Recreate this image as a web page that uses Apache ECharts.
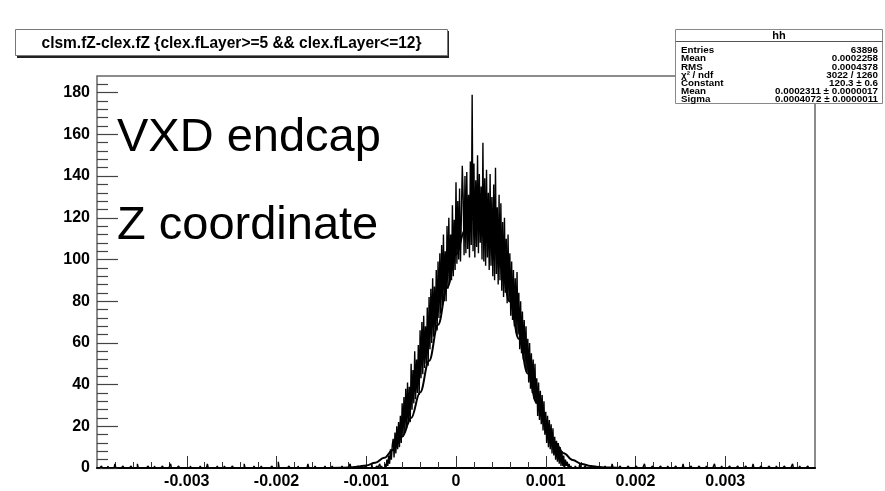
<!DOCTYPE html>
<html><head><meta charset="utf-8">
<script src="https://cdn.jsdelivr.net/npm/echarts@6/dist/echarts.min.js"></script>
<style>html,body{margin:0;padding:0;background:#fff}#c{width:885px;height:491px}</style>
</head><body><div id="c"></div>
<script>
// ---- data ----
const histStart = -0.004;
const histEnd = 0.004;
const binWidth = 0.00001;
const peakStart = -0.0008;
const peakCounts = [
  0, 2, 0, 4, 1, 6, 2, 9, 4, 11,
  14, 5, 17, 7, 20, 9, 22, 10, 25, 12,
  31, 15, 34, 17, 38, 19, 41, 21, 39, 22,
  50, 28, 47, 31, 56, 33, 52, 36, 59, 35,
  66, 43, 70, 45, 73, 48, 68, 50, 77, 49,
  82, 57, 86, 60, 91, 63, 87, 65, 95, 66,
  99, 72, 103, 74, 107, 78, 112, 80, 104, 80,
  116, 86, 120, 89, 112, 90, 126, 92, 119, 95,
  137, 98, 128, 100, 134, 99, 121, 145, 130, 102,
  140, 103, 142, 105, 131, 101, 147, 107, 179, 104,
  146, 101, 138, 106, 150, 103, 141, 108, 135, 100,
  156, 99, 139, 97, 143, 101, 132, 95, 141, 97,
  130, 92, 136, 90, 144, 93, 125, 88, 131, 90,
  127, 85, 118, 82, 120, 84, 110, 79, 112, 80,
  103, 73, 99, 71, 95, 68, 91, 65, 94, 64,
  84, 57, 80, 55, 75, 52, 71, 49, 68, 46,
  62, 41, 60, 38, 55, 36, 52, 33, 50, 31,
  43, 25, 41, 23, 37, 21, 35, 18, 32, 16,
  27, 12, 25, 10, 23, 9, 21, 7, 19, 6,
  15, 4, 13, 3, 12, 2, 10, 1, 8, 1,
  6, 0, 4, 1, 3, 0, 2, 0, 1, 0, 0
];
const tailBins = [
  [-0.00395,1],[-0.00388,1],[-0.0038,2],[-0.00371,1],[-0.00362,1],[-0.00355,2],[-0.00343,1],
  [-0.00336,1],[-0.00327,1],[-0.00318,2],[-0.00309,1],[-0.00296,1],[-0.00285,1],[-0.00277,2],
  [-0.00266,1],[-0.00258,1],[-0.00249,1],[-0.00236,2],[-0.00225,1],[-0.00217,1],[-0.00205,1],
  [-0.00198,3],[-0.00186,1],[-0.00176,1],[-0.00165,2],[-0.00157,1],[-0.00146,1],[-0.00138,1],
  [-0.00127,1],[-0.00118,2],[-0.00109,1],[-0.00101,1],[-0.00094,2],[-0.00088,1],[-0.00085,2],
  [-0.00083,1],
  [0.00133,1],[0.00138,2],[0.00144,1],[0.00151,1],[0.00158,1],[0.00166,1],[0.00174,2],
  [0.00183,1],[0.00192,1],[0.00201,1],[0.0021,2],[0.00219,1],[0.00228,1],[0.00236,1],
  [0.00245,1],[0.00253,2],[0.00262,1],[0.00271,1],[0.00279,1],[0.00288,2],[0.00296,1],
  [0.00305,1],[0.00314,1],[0.00323,1],[0.00331,2],[0.0034,1],[0.00349,1],[0.00357,1],
  [0.00366,1],[0.00375,2],[0.00383,1],[0.00392,1]
];
const fitX = [-0.0014,-0.0013,-0.0012,-0.0011,-0.0010,-0.0009,-0.0008,-0.0007,-0.0006,-0.0005,
  -0.0004,-0.0003,-0.0002,-0.0001,0,0.0001,0.0002,0.0003,0.0004,0.0005,0.0006,0.0007,0.0008,
  0.0009,0.0010,0.0011,0.0012,0.0013,0.0014,0.0015,0.0016,0.0017,0.0018];
const fitY = [0.04,0.10,0.25,0.58,1.25,2.54,4.9,8.8,15.0,24.0,
  36.2,51.4,68.7,86.4,102.4,114.2,120.0,118.6,110.4,96.7,79.8,62.0,45.3,
  31.2,20.2,12.3,7.1,3.84,1.95,0.94,0.42,0.18,0.07];
const xMajorTicks = [-0.003,-0.002,-0.001,0,0.001,0.002,0.003];
const xMinorTicks = [-0.0038,-0.0036,-0.0034,-0.0032,-0.0028,-0.0026,-0.0024,-0.0022,
  -0.0018,-0.0016,-0.0014,-0.0012,-0.0008,-0.0006,-0.0004,-0.0002,
  0.0002,0.0004,0.0006,0.0008,0.0012,0.0014,0.0016,0.0018,
  0.0022,0.0024,0.0026,0.0028,0.0032,0.0034,0.0036,0.0038];
const yMajorTicks = [0,20,40,60,80,100,120,140,160,180];
const yMinorTicks = [4,8,12,16,24,28,32,36,44,48,52,56,64,68,72,76,84,88,92,96,
  104,108,112,116,124,128,132,136,144,148,152,156,164,168,172,176,184];
const yMax = 188;
const titleText = 'clsm.fZ-clex.fZ {clex.fLayer>=5 && clex.fLayer<=12}';
const statsName = 'hh';
const statsLabels = ['Entries','Mean','RMS','χ² / ndf','Constant','Mean','Sigma'];
const statsValues = ['63896','0.0002258','0.0004378','3022 / 1260','120.3 ± 0.6',
  '0.0002311 ± 0.0000017','0.0004072 ± 0.0000011'];
const noteLines = ['VXD endcap','Z coordinate'];

// ---- build ----
const nBins = Math.round((histEnd - histStart) / binWidth);
const counts = new Array(nBins).fill(0);
tailBins.forEach(([x, c]) => { counts[Math.floor((x - histStart) / binWidth + 1e-6)] = c; });
const off = Math.round((peakStart - histStart) / binWidth);
peakCounts.forEach((c, i) => { counts[off + i] = c; });
const histData = counts.map((c, i) => [histStart + i * binWidth, c]);
histData.push([histEnd, counts[nBins - 1]]);
const fitData = fitX.map((x, i) => [x, fitY[i]]);

const FONT = 'Liberation Sans';
const chart = echarts.init(document.getElementById('c'), null, {renderer: 'canvas'});

const statsTop = 29.5, rowH = 8.2, boxL = 675.5, boxR = 882.5;
const graphics = [];
// title box with shadow
graphics.push({type:'rect', shape:{x:17, y:31, width:432, height:27}, style:{fill:'#222'}, z:10});
graphics.push({type:'rect', shape:{x:15.5, y:29.5, width:432, height:26}, style:{fill:'#fff', stroke:'#777', lineWidth:1}, z:11});
graphics.push({type:'text', x:231.5, y:43, z:12, scaleY:1.12, originX:0, originY:0, style:{text:titleText, font:'bold 15.5px "' + FONT + '"', fill:'#000', align:'center', verticalAlign:'middle'}});
// stats box
const statsH = 74;
graphics.push({type:'rect', shape:{x:boxL, y:statsTop, width:boxR - boxL, height:statsH}, style:{fill:'#fff', stroke:'#888', lineWidth:1}, z:10});
graphics.push({type:'line', shape:{x1:boxL, y1:statsTop + 12, x2:boxR, y2:statsTop + 12}, style:{stroke:'#555', lineWidth:1}, z:11});
graphics.push({type:'text', x:(boxL + boxR) / 2, y:statsTop + 6, z:12, style:{text:statsName, font:'bold 11px "' + FONT + '"', fill:'#000', align:'center', verticalAlign:'middle'}});
statsLabels.forEach((lab, i) => {
  const y = statsTop + 21 + i * rowH;
  graphics.push({type:'text', x:681, y:y, z:12, style:{text:lab, font:'bold 9.8px "' + FONT + '"', fill:'#000', align:'left', verticalAlign:'middle'}});
  graphics.push({type:'text', x:878, y:y, z:12, style:{text:statsValues[i], font:'bold 9.8px "' + FONT + '"', fill:'#000', align:'right', verticalAlign:'middle'}});
});
// annotation texts
graphics.push({type:'text', x:117, y:138, z:12, style:{text:noteLines[0], font:'47px "' + FONT + '"', fill:'#000', align:'left', verticalAlign:'middle'}});
graphics.push({type:'text', x:117, y:226, z:12, style:{text:noteLines[1], font:'47px "' + FONT + '"', fill:'#000', align:'left', verticalAlign:'middle'}});

const labelStyle = {fontFamily: FONT, fontWeight: 'bold', fontSize: 16, color: '#000'};

chart.setOption({
  animation: false,
  backgroundColor: '#fff',
  grid: {left: 97, right: 70, top: 76, bottom: 23, show: true, borderColor: '#666', borderWidth: 1.5, backgroundColor: 'transparent'},
  xAxis: [
    {type: 'value', min: histStart, max: histEnd, position: 'bottom',
     axisLine: {show: true, onZero: false, lineStyle: {color: '#000', width: 2}},
     axisTick: {show: true, inside: true, length: 12, customValues: xMajorTicks, lineStyle: {color: '#333', width: 1}},
     axisLabel: Object.assign({show: true, margin: 6, customValues: xMajorTicks,
       formatter: v => (Math.abs(v) < 1e-12 ? '0' : v.toFixed(3))}, labelStyle),
     splitLine: {show: false}},
    {type: 'value', min: histStart, max: histEnd, position: 'bottom',
     axisLine: {show: false, onZero: false},
     axisTick: {show: true, inside: true, length: 6, customValues: xMinorTicks, lineStyle: {color: '#333', width: 1}},
     axisLabel: {show: false}, splitLine: {show: false}}
  ],
  yAxis: [
    {type: 'value', min: 0, max: yMax, position: 'left',
     axisLine: {show: false, onZero: false},
     axisTick: {show: true, inside: true, length: 21, customValues: yMajorTicks, lineStyle: {color: '#444', width: 1.2}},
     axisLabel: Object.assign({show: true, margin: 7, customValues: yMajorTicks}, labelStyle),
     splitLine: {show: false}},
    {type: 'value', min: 0, max: yMax, position: 'left',
     axisLine: {show: false, onZero: false},
     axisTick: {show: true, inside: true, length: 11, customValues: yMinorTicks, lineStyle: {color: '#444', width: 1.2}},
     axisLabel: {show: false}, splitLine: {show: false}}
  ],
  series: [
    {type: 'line', name: 'hist', xAxisIndex: 0, yAxisIndex: 0, data: histData, step: 'end',
     showSymbol: false, symbol: 'none', lineStyle: {color: '#000', width: 1.4}, z: 3, silent: true},
    {type: 'line', name: 'fit', xAxisIndex: 0, yAxisIndex: 0, data: fitData, smooth: 0.4, smoothMonotone: 'x',
     showSymbol: false, symbol: 'none', lineStyle: {color: '#000', width: 2}, z: 4, silent: true}
  ],
  graphic: graphics
});
</script>
</body></html>
